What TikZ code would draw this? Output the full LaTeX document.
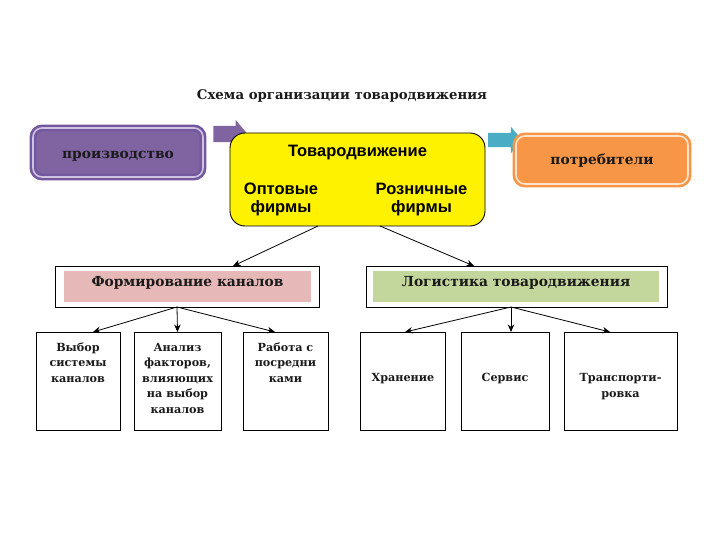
\documentclass[tikz,border=0pt]{standalone}
\usepackage{fontspec}
\setmainfont{DejaVu Serif}
\newfontfamily\arialfont{Liberation Sans}
\usetikzlibrary{shapes.arrows, arrows.meta}
\definecolor{purp}{HTML}{8064A2}
\definecolor{purpring}{HTML}{7358A0}
\definecolor{purplight}{HTML}{CFC3E0}
\definecolor{orng}{HTML}{F79646}
\definecolor{ornglight}{HTML}{FDE3CC}
\definecolor{bluearr}{HTML}{4BACC6}
\definecolor{pinkfill}{HTML}{E6B9B8}
\definecolor{greenfill}{HTML}{C3D69B}
\definecolor{txtdark}{HTML}{1A1A1A}
\begin{document}
\begin{tikzpicture}[x=1pt,y=-1pt,
  every node/.style={inner sep=0pt, outer sep=0pt},
  title/.style={font=\bfseries\fontsize{13.3}{15}\selectfont, text=txtdark},
  bigtxt/.style={font=\bfseries\fontsize{13.8}{15}\selectfont, text=txtdark},
  grptxt/.style={font=\bfseries\fontsize{13.8}{15}\selectfont, text=txtdark},
  smalltxt/.style={font=\bfseries\fontsize{11.2}{15.4}\selectfont, align=center, text=txtdark},
  sanstxt/.style={font=\arialfont\bfseries\fontsize{16.5}{18}\selectfont, align=center, text=black},
  ringbox/.style={rounded corners=9pt, line width=2.6pt, double distance=1.6pt},
  plainbox/.style={draw=black, line width=0.9pt, fill=white},
  conn/.style={draw=black, line width=0.8pt, -{Stealth[length=7.5pt,width=6.5pt]}}
]
\useasboundingbox (0,0) rectangle (720,540);
\fill[white] (0,0) rectangle (720,540);

% title
\node[title, anchor=base] (ttl) at (342,100) {Схема организации товародвижения};

% production
\node[ringbox, fill=purp, draw=purpring, double=purplight,
  minimum width=170pt, minimum height=49pt] (prod) at (118,152.5) {};
\node[bigtxt, anchor=base] (prodt) at (118,159) {производство};

% purple arrow
\node[single arrow, fill=purp, inner xsep=4pt, inner ysep=8pt,
  single arrow head extend=6pt, single arrow tip angle=100,
  minimum height=34pt] (parr) at (227,134) {};

% yellow box
\node[draw=black, line width=0.9pt, fill=yellow, rounded corners=15pt,
  minimum width=255pt, minimum height=93pt] (yel) at (357.5,179.5) {};
\node[sanstxt, anchor=base] (yt) at (357.5,157) {Товародвижение};
\node[sanstxt, anchor=base] (yopt) at (281,213) {Оптовые\\фирмы};
\node[sanstxt, anchor=base] (yroz) at (421.5,213) {Розничные\\фирмы};

% blue arrow
\node[single arrow, fill=bluearr, inner xsep=4pt, inner ysep=7pt,
  single arrow head extend=6pt, single arrow tip angle=100,
  minimum height=34pt] (barr) at (502,140) {};

% consumers
\node[ringbox, fill=orng, draw=orng, double=ornglight,
  minimum width=172pt, minimum height=48pt] (cons) at (602,160) {};
\node[bigtxt, anchor=base] (const) at (602,165) {потребители};

% group boxes
\node[plainbox, minimum width=264pt, minimum height=41pt] (grpL) at (187,286.5) {};
\node[fill=pinkfill, minimum width=247pt, minimum height=31pt] (grpLin) at (187.5,286.5) {};
\node[grptxt, anchor=base] (grpLt) at (187.5,286) {Формирование каналов};

\node[plainbox, minimum width=301pt, minimum height=41pt] (grpR) at (516.5,286.5) {};
\node[fill=greenfill, minimum width=286pt, minimum height=31pt] (grpRin) at (516,286.5) {};
\node[grptxt, anchor=base] (grpRt) at (516,286) {Логистика товародвижения};

% connectors from yellow box
\draw[conn] (318,0 |- yel.south) -- (233,0 |- grpL.north);
\draw[conn] (380,0 |- yel.south) -- (474,0 |- grpR.north);

% bottom boxes left
\node[plainbox, minimum width=84pt, minimum height=98pt] (b1) at (78,381) {};
\node[plainbox, minimum width=87pt, minimum height=98pt] (b2) at (177.5,381) {};
\node[plainbox, minimum width=85pt, minimum height=98pt] (b3) at (285.5,381) {};
\node[smalltxt, anchor=base] (b1t) at (78,382.3) {Выбор\\системы\\каналов};
\node[smalltxt, anchor=base] (b2t) at (177.5,413.1) {Анализ\\факторов,\\влияющих\\на выбор\\каналов};
\node[smalltxt, anchor=base] (b3t) at (285.5,382.3) {Работа с\\посредни\\ками};

% bottom boxes right
\node[plainbox, minimum width=85pt, minimum height=98pt] (b4) at (403,381) {};
\node[plainbox, minimum width=88pt, minimum height=98pt] (b5) at (505,381) {};
\node[plainbox, minimum width=113pt, minimum height=98pt] (b6) at (620.5,381) {};
\node[smalltxt, anchor=base] (b4t) at (403,381.5) {Хранение};
\node[smalltxt, anchor=base] (b5t) at (505,381) {Сервис};
\node[smalltxt, anchor=base] (b6t) at (620.5,397) {Транспорти-\\ровка};

% connectors to bottom boxes
\coordinate (oL) at (177,0 |- grpL.south);
\coordinate (oR) at (511,0 |- grpR.south);
\draw[conn] (oL) -- (93,0 |- b1.north);
\draw[conn] (oL) -- (b2.north);
\draw[conn] (oL) -- (275,0 |- b3.north);
\draw[conn] (oR) -- (405,0 |- b4.north);
\draw[conn] (oR) -- (511,0 |- b5.north);
\draw[conn] (oR) -- (610,0 |- b6.north);
\end{tikzpicture}
\end{document}
